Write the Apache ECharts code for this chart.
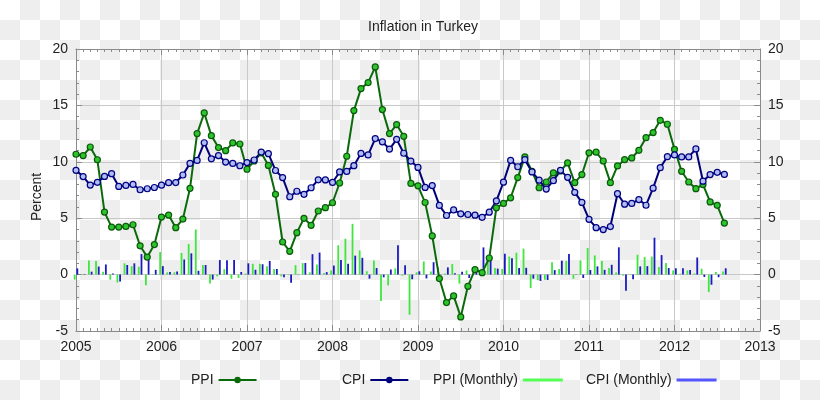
<!DOCTYPE html>
<html><head><meta charset="utf-8">
<script src="https://cdn.jsdelivr.net/npm/echarts/dist/echarts.min.js"></script>
<style>
html,body{margin:0;padding:0;}
body{width:820px;height:400px;background-color:#fff;background-image:repeating-conic-gradient(#eeeeee 0 25%, #ffffff 0 50%);background-size:40px 40px;}
#c{width:820px;height:400px;}
</style></head><body><div id="c"></div>
<script>
// First month of data: January 2005, one value per month through August 2012
const startYear = 2005;
const yearTicks = [2005, 2006, 2007, 2008, 2009, 2010, 2011, 2012, 2013];
const yTicks = [-5, 0, 5, 10, 15, 20];

const ppiAnnual = [
  10.67, 10.55, 11.31, 10.18, 5.54, 4.21, 4.21, 4.27, 4.42, 2.55, 1.55, 2.66,
  5.10, 5.28, 4.16, 4.92, 7.65, 12.50, 14.33, 12.32, 11.26, 10.99, 11.67, 11.58,
  9.34, 10.07, 10.80, 9.68, 7.12, 2.89, 2.06, 3.72, 4.99, 4.37, 5.64, 5.93,
  6.37, 8.12, 10.49, 14.54, 16.49, 17.02, 18.41, 14.63, 12.50, 13.30, 12.26, 8.08,
  7.87, 6.39, 3.43, -0.35, -2.48, -1.89, -3.75, -1.04, 0.44, 0.17, 1.47, 5.92,
  6.31, 6.81, 8.60, 10.43, 9.16, 7.70, 8.21, 9.01, 9.19, 9.90, 8.15, 8.87,
  10.80, 10.85, 10.07, 8.15, 9.63, 10.19, 10.34, 11.02, 12.14, 12.59, 13.68, 13.33,
  11.11, 9.16, 8.21, 7.62, 7.98, 6.44, 6.14, 4.57
];
const cpiAnnual = [
  9.24, 8.69, 7.94, 8.18, 8.70, 8.95, 7.82, 7.91, 7.99, 7.52, 7.61, 7.72,
  7.93, 8.15, 8.16, 8.83, 9.86, 10.12, 11.69, 10.26, 10.55, 9.98, 9.86, 9.65,
  9.93, 10.16, 10.86, 10.72, 9.23, 8.60, 6.90, 7.39, 7.12, 7.70, 8.40, 8.39,
  8.17, 9.10, 9.15, 9.66, 10.74, 10.61, 12.06, 11.77, 11.13, 11.99, 10.76, 10.06,
  9.50, 7.73, 7.89, 6.13, 5.24, 5.73, 5.39, 5.33, 5.27, 5.08, 5.53, 6.53,
  8.19, 10.13, 9.56, 10.19, 9.10, 8.37, 7.58, 8.33, 9.24, 8.62, 7.29, 6.40,
  4.90, 4.16, 3.99, 4.26, 7.17, 6.24, 6.31, 6.65, 6.15, 7.66, 9.48, 10.45,
  10.61, 10.43, 10.43, 11.14, 8.28, 8.87, 9.07, 8.88
];
const ppiMonthly = [
  -0.45, 0.05, 1.25, 1.20, 0.25, -0.45, -0.70, 1.00, 0.75, 0.70, -0.95, 0.05,
  2.00, 0.20, 0.20, 1.92, 2.72, 4.00, 0.85, -0.78, -0.15, 0.48, -0.37, -0.30,
  0.10, 0.96, 0.96, 0.75, 0.49, -0.15, 0.05, 0.84, 1.02, 0.20, 0.90, 0.15,
  0.37, 2.60, 3.18, 4.50, 2.15, 0.30, 1.26, -2.35, -0.96, 0.55, -0.10, -3.56,
  0.20, 1.17, 0.28, 0.67, 0.10, 0.93, -0.80, 0.37, 0.30, 0.30, 1.40, 0.58,
  0.50, 1.60, 1.94, 2.30, -1.20, -0.50, -0.45, 1.10, 0.50, 1.20, -0.37, 1.26,
  2.36, 1.70, 1.20, 0.58, 0.20, -0.10, 0.05, 1.76, 1.55, 1.60, 0.67, 1.02,
  0.37, 0.08, 0.37, 0.10, 0.52, -1.55, 0.22, 0.28
];
const cpiMonthly = [
  0.55, 0.05, 0.26, 0.71, 0.90, 0.10, -0.62, 0.85, 1.00, 1.82, 1.40, 0.42,
  0.75, 0.22, 0.27, 1.34, 1.88, 0.34, 0.85, -0.44, 1.29, 1.27, 1.29, 0.23,
  1.00, 0.43, 0.92, 1.21, 0.50, -0.24, -0.73, 0.02, 1.03, 1.81, 1.95, 0.22,
  0.80, 1.29, 0.96, 1.68, 1.49, -0.36, 0.58, -0.24, 0.45, 2.60, 0.83, -0.41,
  0.29, -0.34, 1.10, 0.02, 0.64, 0.11, 0.25, -0.30, 0.39, 2.41, 1.27, 0.53,
  1.85, 1.45, 0.58, 0.60, -0.36, -0.56, -0.48, 0.40, 1.23, 1.83, 0.03, -0.30,
  0.41, 0.73, 0.42, 0.87, 2.42, -1.43, -0.41, 0.73, 0.75, 3.27, 1.73, 0.58,
  0.56, 0.56, 0.41, 1.52, -0.21, -0.90, -0.23, 0.56
];

const seriesNames = ['PPI', 'CPI', 'PPI (Monthly)', 'CPI (Monthly)'];
const titleText = 'Inflation in Turkey';
const yAxisTitle = 'Percent';

function pairs(vals) {
  return vals.map((v, i) => [startYear + i / 12, v]);
}

const FONT = "'Liberation Sans', Arial, sans-serif";
const TXT = '#222';
const AX = '#8a8a8a';
const GRIDC = '#c8c8c8';

function xAxisDef(pos, showLabel) {
  return {
    type: 'value', position: pos,
    min: yearTicks[0], max: yearTicks[yearTicks.length - 1], interval: 1,
    axisLine: { show: true, onZero: false, lineStyle: { color: AX, width: 1 } },
    axisTick: { show: true, inside: true, length: 6, lineStyle: { color: AX } },
    minorTick: { show: true, splitNumber: 12, length: 3, lineStyle: { color: AX } },
    splitLine: { show: pos === 'bottom', lineStyle: { color: GRIDC, width: 1 } },
    axisLabel: { show: showLabel, margin: 9, fontSize: 14, color: TXT, fontFamily: FONT,
      formatter: v => String(v) }
  };
}
function yAxisDef(pos) {
  return {
    type: 'value', position: pos,
    min: yTicks[0], max: yTicks[yTicks.length - 1], interval: 5,
    axisLine: { show: true, onZero: false, lineStyle: { color: AX, width: 1 } },
    axisTick: { show: true, inside: true, length: 6, lineStyle: { color: AX } },
    minorTick: { show: true, splitNumber: 5, length: 3, lineStyle: { color: AX } },
    splitLine: { show: pos === 'left', lineStyle: { color: GRIDC, width: 1 } },
    axisLabel: { show: true, margin: 8, fontSize: 14, color: TXT, fontFamily: FONT,
      formatter: v => String(v) }
  };
}

const legendBase = {
  orient: 'horizontal', align: 'right', padding: 0, top: 373, selectedMode: false,
  textStyle: { fontSize: 14, color: TXT, fontFamily: FONT }
};

const option = {
  backgroundColor: 'transparent',
  animation: false,
  title: {
    text: titleText, left: 418, top: 15, textAlign: 'center',
    textStyle: { fontSize: 14, fontWeight: 'normal', color: TXT, fontFamily: FONT }
  },
  graphic: [{
    type: 'text', x: 37, y: 197, rotation: Math.PI / 2,
    style: { text: yAxisTitle, fontSize: 14, fill: TXT, fontFamily: FONT,
      align: 'center', verticalAlign: 'middle' }
  }],
  grid: { left: 76, right: 60, top: 49, bottom: 69, containLabel: false },
  xAxis: [xAxisDef('bottom', true), xAxisDef('top', false)],
  yAxis: [yAxisDef('left'), yAxisDef('right')],
  legend: [
    Object.assign({}, legendBase, { left: 191, itemWidth: 38, itemHeight: 8,
      data: [{ name: seriesNames[0], itemStyle: { color: '#0a6a0a', borderColor: '#0a6a0a', borderWidth: 0 } }] }),
    Object.assign({}, legendBase, { left: 342, itemWidth: 38, itemHeight: 8,
      data: [{ name: seriesNames[1], itemStyle: { color: '#00007a', borderColor: '#00007a', borderWidth: 0 } }] }),
    Object.assign({}, legendBase, { left: 433, itemWidth: 40, itemHeight: 3,
      data: [{ name: seriesNames[2], icon: 'rect', itemStyle: { color: '#55ff55' } }] }),
    Object.assign({}, legendBase, { left: 586, itemWidth: 40, itemHeight: 3,
      data: [{ name: seriesNames[3], icon: 'rect', itemStyle: { color: '#5555ff' } }] })
  ],
  series: [
    {
      name: seriesNames[2], type: 'bar', xAxisIndex: 0, yAxisIndex: 0,
      data: pairs(ppiMonthly), barWidth: 1.8, barGap: '50%',
      itemStyle: { color: '#3ee63e' }
    },
    {
      name: seriesNames[3], type: 'bar', xAxisIndex: 0, yAxisIndex: 0,
      data: pairs(cpiMonthly), barWidth: 1.8, barGap: '50%',
      itemStyle: { color: '#1a1abf' }
    },
    {
      name: seriesNames[0], type: 'line', xAxisIndex: 0, yAxisIndex: 0,
      data: pairs(ppiAnnual), symbol: 'circle', symbolSize: 6,
      lineStyle: { color: '#0a6a0a', width: 2 },
      itemStyle: { color: '#2ec42e', borderColor: '#0a5a0a', borderWidth: 1.2 }
    },
    {
      name: seriesNames[1], type: 'line', xAxisIndex: 0, yAxisIndex: 0,
      data: pairs(cpiAnnual), symbol: 'circle', symbolSize: 6,
      lineStyle: { color: '#00007a', width: 2 },
      itemStyle: { color: '#b0bcf4', borderColor: '#000080', borderWidth: 1.2 }
    }
  ]
};

const chart = echarts.init(document.getElementById('c'), null, { renderer: 'canvas' });
chart.setOption(option);
</script>
</body></html>
